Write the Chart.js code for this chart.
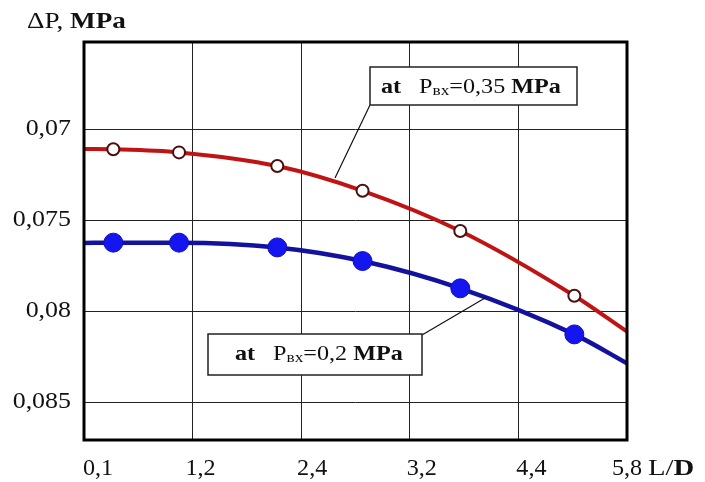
<!DOCTYPE html>
<html>
<head>
<meta charset="utf-8">
<script src="https://cdn.jsdelivr.net/npm/chart.js@4"></script>
<style>
  html, body { margin: 0; padding: 0; background: #fff; }
  #wrap { width: 705px; height: 482px; position: relative; }
</style>
</head>
<body>
<div id="wrap"><canvas id="chart"></canvas></div>
<script>
// x positions are in grid units (0..5), tick labels are the printed L/D values
const xTickLabels = ['0,1', '1,2', '2,4', '3,2', '4,4', '5,8'];
const yTickValues = [0.07, 0.075, 0.08, 0.085];

const pointX = [0.27, 0.875, 1.78, 2.565, 3.465, 4.515];
const redY = [0.07106, 0.07123, 0.07198, 0.07334, 0.07555, 0.07911];
const blueY = [0.07619, 0.07619, 0.07645, 0.0772, 0.0787, 0.08123];

// fitted curves, running edge to edge
const curveX = [0, 0.27, 0.875, 1.78, 2.565, 3.465, 4.515, 5];
const redCurve = [0.07104, 0.07106, 0.07123, 0.07198, 0.07334, 0.07555, 0.07911, 0.08108];
const blueCurve = [0.07621, 0.07619, 0.07619, 0.07645, 0.0772, 0.0787, 0.08123, 0.08282];

const SERIF = "'Liberation Serif', 'Times New Roman', serif";
const zip = (xs, ys) => xs.map((x, i) => ({ x: x, y: ys[i] }));

// the scanned original is a bit wider than normal type, so text gets stretched
function text(ctx, t, x, y, font, align, sx) {
  ctx.save();
  ctx.font = font;
  ctx.textBaseline = 'alphabetic';
  ctx.textAlign = 'left';
  const w = ctx.measureText(t).width * sx;
  let x0 = x;
  if (align === 'center') x0 = x - w / 2;
  if (align === 'right') x0 = x - w;
  ctx.translate(x0, y);
  ctx.scale(sx, 1);
  ctx.fillText(t, 0, 0);
  ctx.restore();
}

// a row of text pieces with their own fonts
function runs(ctx, x, y, sx, parts) {
  parts.forEach(p => {
    ctx.font = p.font;
    text(ctx, p.t, x, y + (p.dy || 0), p.font, 'left', sx);
    x += ctx.measureText(p.t).width * sx + (p.gap || 0);
  });
}

const decor = {
  id: 'decor',
  afterDatasetsDraw(chart) {
    const { ctx, chartArea: a, scales } = chart;
    ctx.save();
    ctx.fillStyle = '#111';

    // frame
    ctx.strokeStyle = '#000';
    ctx.lineWidth = 3;
    ctx.strokeRect(a.left, a.top, a.right - a.left, a.bottom - a.top);

    // y tick labels
    yTickValues.forEach(v => {
      text(ctx, String(v).replace('.', ','), 71, scales.y.getPixelForValue(v) + 5,
        '24px ' + SERIF, 'right', 1.08);
    });

    // x tick labels (nudged like the original)
    const nudge = [14, 8, 11, 12, 13, 0];
    xTickLabels.forEach((t, i) => {
      text(ctx, t, scales.x.getPixelForValue(i) + nudge[i], 475, '23px ' + SERIF, 'center', 1.05);
    });
    runs(ctx, 648, 475, 1.25, [
      { t: 'L/', font: '23px ' + SERIF },
      { t: 'D', font: 'bold 23px ' + SERIF }
    ]);

    // axis title
    runs(ctx, 27, 28, 1.13, [
      { t: '\u0394P, ', font: '24px ' + SERIF },
      { t: 'MPa', font: 'bold 24px ' + SERIF }
    ]);

    // leader lines
    ctx.strokeStyle = '#111';
    ctx.lineWidth = 1.2;
    ctx.beginPath();
    ctx.moveTo(370, 105); ctx.lineTo(335, 178);
    ctx.moveTo(422, 335); ctx.lineTo(485, 298);
    ctx.stroke();

    // callout boxes
    const box = (x, y, w, h, x0, val) => {
      ctx.fillStyle = '#fff';
      ctx.fillRect(x, y, w, h);
      ctx.strokeStyle = '#222';
      ctx.lineWidth = 1.5;
      ctx.strokeRect(x, y, w, h);
      ctx.fillStyle = '#111';
      runs(ctx, x0, y + 26, 1.15, [
        { t: 'at', font: 'bold 21px ' + SERIF, gap: 18 },
        { t: 'P', font: '21px ' + SERIF },
        { t: '\u0432\u0445', font: '15px ' + SERIF, dy: 2 },
        { t: '=' + val + ' ', font: '21px ' + SERIF },
        { t: 'MPa', font: 'bold 21px ' + SERIF }
      ]);
    };
    box(370, 67, 207, 38, 381, '0,35');
    box(208, 334, 214, 41, 235, '0,2');

    ctx.restore();
  }
};

new Chart(document.getElementById('chart'), {
  data: {
    datasets: [
      {
        type: 'scatter',
        data: zip(pointX, redY),
        pointRadius: 6,
        pointBorderWidth: 2,
        pointBackgroundColor: '#ffffff',
        pointBorderColor: '#4a1010',
        order: 0
      },
      {
        type: 'scatter',
        data: zip(pointX, blueY),
        pointRadius: 9.5,
        pointBorderWidth: 1,
        pointBackgroundColor: '#1515f0',
        pointBorderColor: '#1010c0',
        order: 0
      },
      {
        type: 'line',
        data: zip(curveX, redCurve),
        borderColor: '#c01414',
        borderWidth: 4,
        pointRadius: 0,
        cubicInterpolationMode: 'monotone',
        order: 1
      },
      {
        type: 'line',
        data: zip(curveX, blueCurve),
        borderColor: '#12129e',
        borderWidth: 4.5,
        pointRadius: 0,
        cubicInterpolationMode: 'monotone',
        order: 1
      }
    ]
  },
  options: {
    responsive: true,
    maintainAspectRatio: false,
    animation: false,
    layout: { padding: { left: 84, top: 42, right: 78, bottom: 42 } },
    plugins: { legend: { display: false }, tooltip: { enabled: false } },
    scales: {
      x: {
        type: 'linear',
        min: 0,
        max: 5,
        ticks: { stepSize: 1, display: false },
        grid: { color: '#222', lineWidth: 1, drawTicks: false },
        border: { display: false },
        afterFit: s => { s.height = 0; }
      },
      y: {
        type: 'linear',
        reverse: true,
        min: 0.065165,
        max: 0.087033,
        afterBuildTicks: s => { s.ticks = yTickValues.map(v => ({ value: v })); },
        ticks: { display: false },
        grid: { color: '#222', lineWidth: 1, drawTicks: false },
        border: { display: false },
        afterFit: s => { s.width = 0; }
      }
    }
  },
  plugins: [decor]
});
</script>
</body>
</html>
